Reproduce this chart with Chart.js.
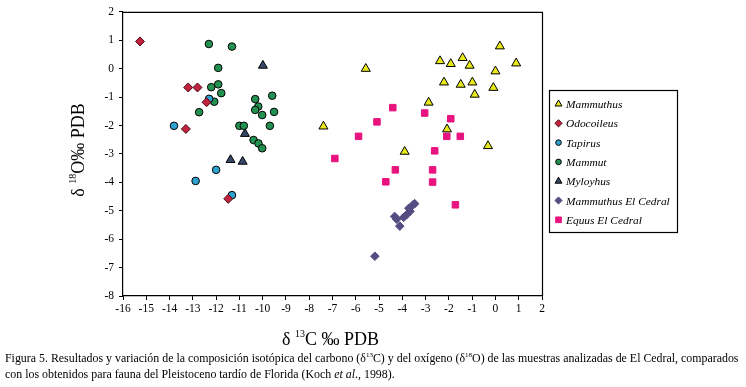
<!DOCTYPE html>
<html>
<head>
<meta charset="utf-8">
<script src="https://cdn.jsdelivr.net/npm/chart.js@4/dist/chart.umd.min.js"></script>
<style>
    body { margin: 0; background: #fff; }
    #wrap { position: relative; width: 746px; height: 387px; }
    #chart { position: absolute; left: 0; top: 0; }
    #caption {
        position: absolute; left: 5px; top: 347px; width: 741px;
        font-family: "Liberation Serif", "Times New Roman", serif;
        font-size: 11.9px; line-height: 16px; color: #000; white-space: nowrap;
    }
    #caption sup { font-size: 7px; }
</style>
</head>
<body>
<div id="wrap">
    <canvas id="chart" width="746" height="387"></canvas>
    <div id="caption">Figura 5. Resultados y variación de la composición isotópica del carbono (δ<sup>13</sup>C) y del oxígeno (δ<sup>18</sup>O) de las muestras analizadas de El Cedral, comparados<br>con los obtenidos para fauna del Pleistoceno tardío de Florida (Koch <i>et al</i>., 1998).</div>
</div>
<script>
// [δ13C, δ18O] pairs
const mammuthus = [
    [-5.57, 0.0], [-7.39, -2.03], [-3.9, -2.92], [0.19, 0.79], [0.89, 0.19],
    [-2.38, 0.27], [-1.92, 0.17], [-1.41, 0.38], [-1.11, 0.11], [0.0, -0.09],
    [-2.21, -0.48], [-1.49, -0.56], [-0.99, -0.48], [-0.89, -0.91], [-0.09, -0.67],
    [-2.87, -1.19], [-2.08, -2.13], [-0.32, -2.72],
];
const odocoileus = [
    [-15.27, 0.96], [-13.2, -0.66], [-12.8, -0.66], [-12.41, -1.18], [-13.3, -2.12], [-11.48, -4.58],
];
const tapirus = [
    [-12.3, -1.06], [-13.81, -2.01], [-12.0, -3.56], [-12.88, -3.95], [-11.32, -4.45],
];
const mammut = [
    [-12.31, 0.87], [-11.32, 0.78], [-11.91, 0.03], [-12.21, -0.65], [-11.91, -0.55],
    [-11.78, -0.86], [-12.08, -1.16], [-12.73, -1.53], [-10.32, -1.07], [-10.19, -1.33],
    [-10.32, -1.45], [-10.02, -1.63], [-9.69, -2.01], [-11.0, -2.01], [-10.81, -2.01],
    [-10.39, -2.51], [-10.18, -2.63], [-10.02, -2.8], [-9.59, -0.95], [-9.51, -1.52],
];
const myloyhus = [
    [-9.99, 0.11], [-10.76, -2.29], [-11.38, -3.21], [-10.86, -3.27],
];
const mammuthusCedral = [
    [-4.33, -5.2], [-4.24, -5.3], [-4.11, -5.54], [-3.82, -5.14], [-3.94, -5.23],
    [-3.67, -5.02], [-3.54, -4.79], [-3.72, -4.91], [-3.47, -4.75], [-5.18, -6.6],
];
const equusCedral = [
    [-4.41, -1.37], [-5.09, -1.87], [-5.88, -2.38], [-6.9, -3.16], [-4.3, -3.56],
    [-4.71, -3.98], [-3.04, -1.56], [-1.92, -1.76], [-2.09, -2.38], [-1.51, -2.38],
    [-2.61, -2.89], [-2.7, -3.56], [-2.7, -3.99], [-1.72, -4.79],
];

const xRange = [-16, 2];
const yRange = [-8, 2];

const serif = '"Liberation Serif", "Times New Roman", serif';
const toXY = (arr) => arr.map((p) => ({ x: p[0], y: p[1] }));

const series = [
    { label: "Mammuthus", data: mammuthus, style: "triangle", fill: "#e8e81a", border: "#000", r: 5.2, lr: 4 },
    { label: "Odocoileus", data: odocoileus, style: "rectRot", fill: "#c0223f", border: "#4a0a14", r: 4.5, lr: 3.6 },
    { label: "Tapirus", data: tapirus, style: "circle", fill: "#2ea3cf", border: "#000", r: 3.8, lr: 2.8 },
    { label: "Mammut", data: mammut, style: "circle", fill: "#239150", border: "#000", r: 3.8, lr: 2.8 },
    { label: "Myloyhus", data: myloyhus, style: "triangle", fill: "#36486a", border: "#000", r: 5.2, lr: 4 },
    { label: "Mammuthus El Cedral", data: mammuthusCedral, style: "rectRot", fill: "#534d82", border: "#534d82", r: 4.3, lr: 3.6 },
    { label: "Equus El Cedral", data: equusCedral, style: "rect", fill: "#e8137f", border: "#e8137f", r: 4.6, lr: 4 },
];

// frame on top/right + axis titles + boxed legend
const extrasPlugin = {
    id: "extras",
    afterDraw: (chart) => {
        const ctx = chart.ctx;
        const a = chart.chartArea;
        ctx.save();
        ctx.strokeStyle = "#000";
        ctx.lineWidth = 1.2;
        ctx.beginPath();
        ctx.moveTo(a.left, a.top + 0.5);
        ctx.lineTo(a.right + 0.5, a.top + 0.5);
        ctx.lineTo(a.right + 0.5, a.bottom);
        ctx.stroke();

        // x title
        ctx.fillStyle = "#000";
        ctx.textBaseline = "alphabetic";
        let x = 282;
        const by = 345;
        ctx.font = `18px ${serif}`;
        ctx.fillText("δ ", x, by);
        x += ctx.measureText("δ ").width;
        ctx.font = `10px ${serif}`;
        ctx.fillText("13", x, by - 8);
        x += ctx.measureText("13").width;
        ctx.font = `18px ${serif}`;
        ctx.fillText("C ‰ PDB", x, by);

        // y title (rotated)
        ctx.save();
        ctx.translate(84, 150);
        ctx.rotate(-Math.PI / 2);
        ctx.font = `18px ${serif}`;
        const p1 = "δ ", p3 = "O‰ PDB";
        const w1 = ctx.measureText(p1).width;
        const w3 = ctx.measureText(p3).width;
        ctx.font = `10px ${serif}`;
        const w2 = ctx.measureText("18").width;
        let t = -(w1 + w2 + w3) / 2;
        ctx.font = `18px ${serif}`;
        ctx.fillText(p1, t, 0);
        t += w1;
        ctx.font = `10px ${serif}`;
        ctx.fillText("18", t, -8);
        t += w2;
        ctx.font = `18px ${serif}`;
        ctx.fillText(p3, t, 0);
        ctx.restore();

        // legend
        ctx.lineWidth = 1.2;
        ctx.strokeRect(549.5, 90.5, 128, 142);
        ctx.font = `italic 11.4px ${serif}`;
        ctx.textBaseline = "middle";
        series.forEach((s, i) => {
            const ly = 104 + i * 19.3;
            ctx.fillStyle = s.fill;
            ctx.strokeStyle = s.border;
            ctx.lineWidth = 1;
            Chart.helpers.drawPoint(ctx, { pointStyle: s.style, radius: s.lr, borderWidth: 1 }, 558.5, ly);
            ctx.fillStyle = "#000";
            ctx.fillText(s.label, 566, ly + 1);
        });
        ctx.restore();
    },
};

const tickFont = { family: serif, size: 11.5 };

new Chart(document.getElementById("chart"), {
    type: "scatter",
    data: {
        datasets: series.map((s) => ({
            label: s.label,
            data: toXY(s.data),
            pointStyle: s.style,
            pointRadius: s.r,
            pointBackgroundColor: s.fill,
            pointBorderColor: s.border,
            pointBorderWidth: 1,
        })),
    },
    options: {
        responsive: false,
        animation: false,
        layout: { padding: { left: 0, top: 7, right: 204, bottom: 0 } },
        plugins: {
            legend: { display: false },
            tooltip: { enabled: false },
        },
        scales: {
            x: {
                type: "linear",
                min: xRange[0],
                max: xRange[1],
                ticks: { stepSize: 1, color: "#000", font: tickFont, padding: 2, maxRotation: 0, autoSkip: false },
                grid: { drawOnChartArea: false, tickLength: 4, color: "#000" },
                border: { color: "#000", width: 1.2 },
                afterFit: (s) => { s.height = 387 - 296; },
            },
            y: {
                type: "linear",
                min: yRange[0],
                max: yRange[1],
                ticks: { stepSize: 1, color: "#000", font: tickFont, padding: 5 },
                grid: { drawOnChartArea: false, tickLength: 4, color: "#000" },
                border: { color: "#000", width: 1.2 },
                afterFit: (s) => { s.width = 123; },
            },
        },
    },
    plugins: [extrasPlugin],
});
</script>
</body>
</html>
